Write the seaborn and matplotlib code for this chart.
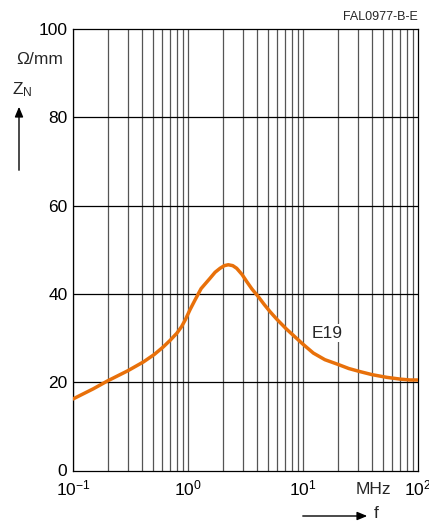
import numpy as np
import pandas as pd
import matplotlib
matplotlib.use("Agg")
import matplotlib.pyplot as plt
import seaborn as sns

# Impedance curve of E19 (frequency in MHz, Z_N in Ohm/mm)
freq_mhz = [0.1, 0.15, 0.2, 0.3, 0.41, 0.51, 0.61, 0.7, 0.8, 0.88, 0.95, 1.04, 1.15, 1.3, 1.55, 1.72, 1.9, 2.07,
            2.24, 2.45, 2.65, 2.95, 3.24, 3.6, 4.08, 4.6, 5.16, 5.9, 7.2, 8.25, 10, 12.3, 15.5, 20.3, 25, 31.3,
            40, 53.5, 70, 85, 100]
z_n = [16.2, 18.5, 20.3, 22.6, 24.6, 26.3, 28.0, 29.5, 31.1, 32.6, 34.2, 36.4, 38.6, 41.2, 43.5, 44.9, 45.8, 46.4,
       46.6, 46.4, 45.8, 44.4, 42.8, 41.1, 39.4, 37.6, 36.0, 34.3, 32.0, 30.6, 28.6, 26.6, 25.1, 24.0, 23.1, 22.4,
       21.7, 21.1, 20.7, 20.5, 20.5]
series_label = "E19"
y_ticks = [0, 20, 40, 60, 80, 100]
x_ticks = [0.1, 1, 10, 100]
x_tick_labels = [r"$10^{-1}$", r"$10^{0}$", r"$10^{1}$", r"$10^{2}$"]

sns.set_theme(style="white")
plt.rcParams["font.family"] = ["Liberation Sans", "DejaVu Sans"]
plt.rcParams["mathtext.fontset"] = "custom"
plt.rcParams["mathtext.rm"] = "Liberation Sans"
plt.rcParams["mathtext.it"] = "Liberation Sans"

fig = plt.figure(figsize=(4.29, 5.27), dpi=100)
ax = fig.add_axes([73 / 429, 1 - 470.5 / 527, (418 - 73) / 429, (470.5 - 29) / 527])

df = pd.DataFrame({"f": freq_mhz, "z": z_n})
sns.lineplot(data=df, x="f", y="z", ax=ax, color="#E8700A", linewidth=2.5, zorder=5)
for ln in ax.lines:
    ln.set_solid_joinstyle("round")
    ln.set_solid_capstyle("round")

ax.set_xscale("log")
ax.set_xlim(0.1, 100)
ax.set_ylim(0, 100)

# log grid: a vertical line at every 1..9 step of each decade
for dec in [0.1, 1, 10]:
    for m in range(1, 10):
        ax.axvline(dec * m, color="#555555", linewidth=0.9, zorder=1)
for y in y_ticks[1:-1]:
    ax.axhline(y, color="black", linewidth=0.9, zorder=2)

for s in ax.spines.values():
    s.set_color("black")
    s.set_linewidth(0.9)

ax.set_yticks(y_ticks)
ax.set_yticklabels([str(v) for v in y_ticks], fontsize=12.5)
ax.set_xticks(x_ticks)
ax.set_xticklabels(x_tick_labels, fontsize=12.5)
ax.xaxis.set_minor_locator(matplotlib.ticker.NullLocator())
ax.tick_params(axis="y", length=0, pad=4, colors="black")
ax.tick_params(axis="x", length=0, pad=6, colors="black")
ax.set_xlabel("")
ax.set_ylabel("")

ax.text(16.3, 31.1, series_label, fontsize=12.5, ha="center", va="center", zorder=6,
        bbox=dict(facecolor="white", edgecolor="none", pad=1))

# annotations around the frame
fig.text(418 / 429, 1 - 17 / 527, "FAL0977-B-E", fontsize=9, ha="right", va="center")
fig.text(40 / 429, 1 - 59 / 527, "Ω/mm", fontsize=12.5, ha="center", va="center")
fig.text(12 / 429, 1 - 90 / 527, r"Z$_{\mathrm{N}}$", fontsize=12.5, ha="left", va="center")
fig.text(373 / 429, 1 - 489 / 527, "MHz", fontsize=12.5, ha="center", va="center")
fig.text(376 / 429, 1 - 513 / 527, "f", fontsize=12.5, ha="center", va="center")

fig.patches.append(matplotlib.patches.FancyArrowPatch(
    (19 / 429, 1 - 173 / 527), (19 / 429, 1 - 104 / 527), transform=fig.transFigure,
    arrowstyle="-|>,head_length=6,head_width=2.5", color="black", linewidth=1))
fig.patches.append(matplotlib.patches.FancyArrowPatch(
    (300 / 429, 1 - 516 / 527), (370 / 429, 1 - 516 / 527), transform=fig.transFigure,
    arrowstyle="-|>,head_length=6,head_width=2.5", color="black", linewidth=1))

fig.savefig("out.png", dpi=100)
